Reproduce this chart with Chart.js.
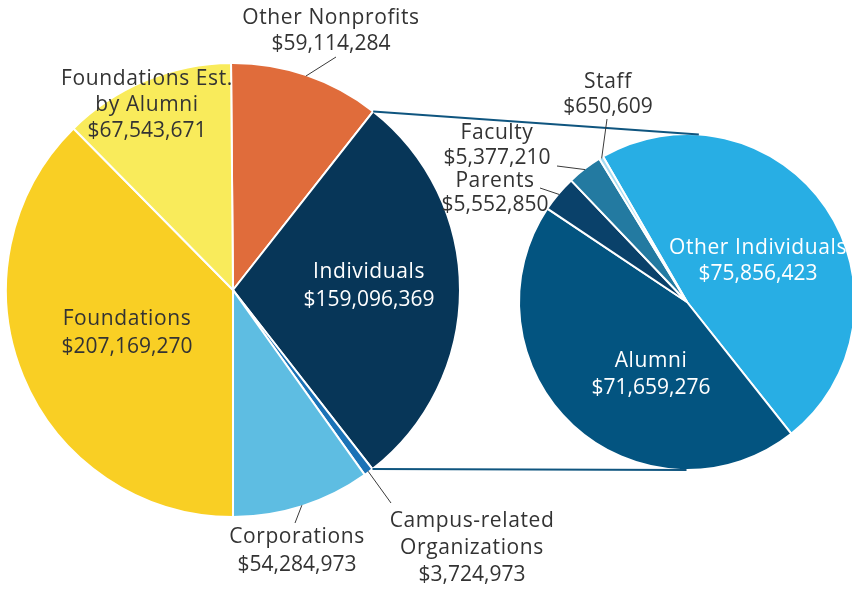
<!DOCTYPE html>
<html>
<head>
<meta charset="utf-8">
<script src="https://cdn.jsdelivr.net/npm/chart.js@4.4.0/dist/chart.umd.min.js"></script>
<style>
body { margin: 0; background: #fff; overflow: hidden; width: 852px; height: 591px; position: relative; }
canvas { position: absolute; left: 0; top: 0; }
</style>
</head>
<body>
<canvas id="mainPie" width="852" height="591"></canvas>
<canvas id="subPie" width="870" height="591"></canvas>
<script>
// main breakdown (clockwise from top)
const mainLabels = ['Other Nonprofits', 'Individuals', 'Campus-related Organizations', 'Corporations', 'Foundations', 'Foundations Est. by Alumni'];
const mainValues = [59114284, 159096369, 3724973, 54284973, 207169270, 67543671];
const mainColors = ['#e06c3b', '#073658', '#1b72b6', '#5ebde2', '#f9cf24', '#f9eb5b'];

// Individuals split
const subLabels = ['Other Individuals', 'Alumni', 'Parents', 'Faculty', 'Staff'];
const subValues = [75856423, 71659276, 5552850, 5377210, 650609];
const subColors = ['#28aee4', '#035480', '#0a416a', '#237aa1', '#a6dcf2'];

const DARK = '#333333';
const fmt = v => '$' + v.toLocaleString('en-US');

// text placement for each slice (index into the arrays above)
const mainText = [
    { i: 0, name: ['Other Nonprofits'], x: 331, y: 18, color: DARK, leader: [336, 57] },
    { i: 1, name: ['Individuals'], x: 369, y: 272, color: '#fff', lh: 28 },
    { i: 2, name: ['Campus-related', 'Organizations'], x: 472, y: 521, color: DARK, leader: [391, 503], lh: 27 },
    { i: 3, name: ['Corporations'], x: 297, y: 537, color: DARK, leader: [295, 523], lh: 28 },
    { i: 4, name: ['Foundations'], x: 127, y: 319, color: DARK, lh: 28 },
    { i: 5, name: ['Foundations Est.', 'by Alumni'], x: 147, y: 79, color: DARK }
];
const subText = [
    { i: 0, name: ['Other Individuals'], x: 758, y: 248, color: '#fff' },
    { i: 1, name: ['Alumni'], x: 651, y: 361, color: '#fff', lh: 27 },
    { i: 2, name: ['Parents'], x: 495, y: 181, color: DARK, leader: [540, 188], lh: 24 },
    { i: 3, name: ['Faculty'], x: 497, y: 133, color: DARK, leader: [557, 166], lh: 25 },
    { i: 4, name: ['Staff'], x: 608, y: 82, color: DARK, leader: [607, 119], lh: 25 }
];

const sliceLabels = {
    id: 'sliceLabels',
    afterDatasetsDraw(chart, args, opts) {
        const ctx = chart.ctx;
        const arcs = chart.getDatasetMeta(0).data;
        const values = chart.data.datasets[0].data;
        ctx.save();
        opts.items.forEach(item => {
            if (item.leader) {
                const p = arcs[item.i].getProps(['x', 'y', 'startAngle', 'endAngle', 'outerRadius'], true);
                const mid = (p.startAngle + p.endAngle) / 2;
                ctx.beginPath();
                ctx.moveTo(p.x + Math.cos(mid) * (p.outerRadius - 1), p.y + Math.sin(mid) * (p.outerRadius - 1));
                ctx.lineTo(item.leader[0], item.leader[1]);
                ctx.strokeStyle = '#3a3a3a';
                ctx.lineWidth = 1;
                ctx.stroke();
            }
            const lh = item.lh || 26;
            ctx.fillStyle = item.color;
            ctx.textAlign = 'center';
            ctx.textBaseline = 'middle';
            ctx.font = '21px "Open Sans"';
            ctx.letterSpacing = '0.6px';
            item.name.forEach((t, k) => ctx.fillText(t, item.x, item.y + k * lh));
            ctx.letterSpacing = '0px';
            ctx.fillText(fmt(values[item.i]), item.x, item.y + item.name.length * lh);
        });
        ctx.restore();
    }
};

function pieOptions(rotation, padding, items) {
    return {
        responsive: false,
        animation: false,
        devicePixelRatio: 1,
        rotation: rotation,
        layout: { padding: padding },
        plugins: {
            legend: { display: false },
            tooltip: { enabled: false },
            sliceLabels: { items: items }
        }
    };
}

const mainChart = new Chart(document.getElementById('mainPie'), {
    type: 'pie',
    data: {
        labels: mainLabels,
        datasets: [{ data: mainValues, backgroundColor: mainColors, borderColor: '#fff', borderWidth: 2 }]
    },
    options: pieOptions(-0.5, { left: 5, top: 62, right: 391, bottom: 73 }, mainText),
    plugins: [sliceLabels]
});

// lines joining the Individuals slice to the second pie
const connector = {
    id: 'connector',
    afterDatasetsDraw(chart) {
        const ind = mainChart.getDatasetMeta(0).data[1].getProps(['x', 'y', 'startAngle', 'endAngle', 'outerRadius'], true);
        const c = chart.getDatasetMeta(0).data[0].getProps(['x', 'y', 'outerRadius'], true);
        const ctx = chart.ctx;
        const ends = [[ind.startAngle, 1], [ind.endAngle, -1]];
        ctx.save();
        ctx.strokeStyle = '#0f557f';
        ctx.lineWidth = 2;
        ends.forEach(([a, side]) => {
            const px = ind.x + Math.cos(a) * ind.outerRadius;
            const py = ind.y + Math.sin(a) * ind.outerRadius;
            const dx = px - c.x, dy = py - c.y;
            const d = Math.hypot(dx, dy);
            const base = Math.atan2(dy, dx);
            const alpha = Math.acos(c.outerRadius / d);
            const t = base + side * alpha;
            ctx.beginPath();
            ctx.moveTo(px, py);
            ctx.lineTo(c.x + Math.cos(t) * c.outerRadius, c.y + Math.sin(t) * c.outerRadius);
            ctx.stroke();
        });
        ctx.restore();
    }
};

new Chart(document.getElementById('subPie'), {
    type: 'pie',
    data: {
        labels: subLabels,
        datasets: [{ data: subValues, backgroundColor: subColors, borderColor: '#fff', borderWidth: 2 }]
    },
    options: pieOptions(-30, { left: 518, top: 133, right: 14, bottom: 120 }, subText),
    plugins: [connector, sliceLabels]
});
</script>
</body>
</html>
